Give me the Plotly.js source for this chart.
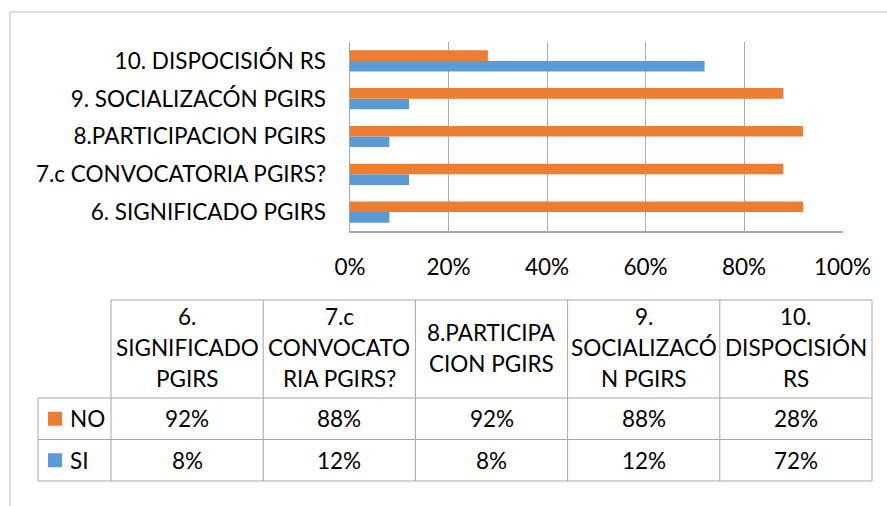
<!DOCTYPE html>
<html>
<head>
<meta charset="utf-8">
<script src="https://cdn.plot.ly/plotly-3.0.1.min.js"></script>
<style>html,body{margin:0;padding:0;background:#fff;}#chart{width:887px;height:506px;}</style>
</head>
<body>
<div id="chart"></div>
<script>
// ---- data ----
const categories = ["6. SIGNIFICADO PGIRS", "7.c CONVOCATORIA PGIRS?", "8.PARTICIPACION PGIRS", "9. SOCIALIZACÓN PGIRS", "10. DISPOCISIÓN RS"];
const headerLabels = ["6.<br>SIGNIFICADO<br>PGIRS", "7.c<br>CONVOCATO<br>RIA PGIRS?", "8.PARTICIPA<br>CION PGIRS", "9.<br>SOCIALIZACÓ<br>N PGIRS", "10.<br>DISPOCISIÓN<br>RS"];
const seriesNames = ["NO", "SI"];
const noValues = [92, 88, 92, 88, 28];
const siValues = [8, 12, 8, 12, 72];
const xTickValues = [0, 20, 40, 60, 80, 100];
const xTickLabels = ["0%", "20%", "40%", "60%", "80%", "100%"];

// ---- styles ----
const W = 887, H = 506;
const FONT = "Lato, 'Open Sans', sans-serif";
const orange = "#ED7D31", blue = "#5B9BD5";
const lineGray = "#a6a6a6";
const px = x => x / W;
const py = y => 1 - y / H;

const traces = [
  {type: "bar", orientation: "h", name: seriesNames[1], y: categories, x: siValues,
   marker: {color: blue}, hoverinfo: "x+y"},
  {type: "bar", orientation: "h", name: seriesNames[0], y: categories, x: noValues,
   marker: {color: orange}, hoverinfo: "x+y"}
];

// ---- table geometry ----
const tLeft = 38, legW = 73, tRight = 872;
const colW = (tRight - tLeft - legW) / categories.length;
const rowY = [300, 398, 439.5, 481];
const shapes = [];
const annotations = [];

// outer chart border (top & left)
shapes.push({type: "path", xref: "paper", yref: "paper",
  path: `M ${px(10)} ${py(520)} L ${px(10)} ${py(12)} L ${px(900)} ${py(12)}`,
  line: {color: "#bfbfbf", width: 1}});

const firstColX = tLeft + legW;
shapes.push({type: "line", xref: "paper", yref: "paper", x0: px(firstColX), x1: px(tRight), y0: py(rowY[0]), y1: py(rowY[0]), line: {color: lineGray, width: 1}});
for (let r = 1; r < rowY.length; r++) {
  shapes.push({type: "line", xref: "paper", yref: "paper", x0: px(tLeft), x1: px(tRight), y0: py(rowY[r]), y1: py(rowY[r]), line: {color: lineGray, width: 1}});
}
shapes.push({type: "line", xref: "paper", yref: "paper", x0: px(tLeft), x1: px(tLeft), y0: py(rowY[1]), y1: py(rowY[3]), line: {color: lineGray, width: 1}});
for (let c = 0; c <= categories.length; c++) {
  const xx = firstColX + c * colW;
  shapes.push({type: "line", xref: "paper", yref: "paper", x0: px(xx), x1: px(xx), y0: py(rowY[0]), y1: py(rowY[3]), line: {color: lineGray, width: 1}});
}

const TFS = 22.5;
categories.forEach((cat, c) => {
  const cx = firstColX + (c + 0.5) * colW;
  const lines = headerLabels[c].split("<br>");
  const lh = 31;
  const midY = (rowY[0] + rowY[1]) / 2 - 1.5;
  lines.forEach((ln, i) => {
    const yy = midY + (i - (lines.length - 1) / 2) * lh;
    annotations.push({xref: "paper", yref: "paper", x: px(cx), y: py(yy), text: ln, showarrow: false,
      xanchor: "center", yanchor: "middle", font: {family: FONT, size: TFS, color: "#000"}});
  });
});
const rowVals = [noValues, siValues];
const rowColors = [orange, blue];
rowVals.forEach((vals, r) => {
  const cy = (rowY[r + 1] + rowY[r + 2]) / 2;
  shapes.push({type: "rect", xref: "paper", yref: "paper", x0: px(48), x1: px(62), y0: py(cy - 7), y1: py(cy + 7),
    fillcolor: rowColors[r], line: {width: 0}});
  annotations.push({xref: "paper", yref: "paper", x: px(68), y: py(cy), text: seriesNames[r], showarrow: false,
    xanchor: "left", yanchor: "middle", font: {family: FONT, size: TFS, color: "#000"}});
  vals.forEach((v, c) => {
    const cx = firstColX + (c + 0.5) * colW;
    annotations.push({xref: "paper", yref: "paper", x: px(cx), y: py(cy), text: v + "%", showarrow: false,
      xanchor: "center", yanchor: "middle", font: {family: FONT, size: TFS, color: "#000"}});
  });
});

const layout = {
  width: W, height: H, autosize: false,
  margin: {l: 0, r: 0, t: 0, b: 0},
  paper_bgcolor: "#fff", plot_bgcolor: "#fff",
  showlegend: false,
  barmode: "group", bargap: 0.44, bargroupgap: 0,
  font: {family: FONT, color: "#000"},
  xaxis: {domain: [px(350), px(842.5)], range: [0, 100], tickmode: "array", tickvals: xTickValues, ticktext: xTickLabels,
    showgrid: true, gridcolor: "#acacac", gridwidth: 1, zeroline: false,
    showline: true, linecolor: "#a6a6a6", linewidth: 1.5, ticks: "", ticklabelstandoff: 15,
    tickfont: {family: FONT, size: 22.5, color: "#000"}, fixedrange: true},
  yaxis: {domain: [py(231), py(42)], type: "category", categoryorder: "array", categoryarray: categories,
    showline: true, linecolor: "#a6a6a6", linewidth: 1.5, ticks: "", ticklabelstandoff: 18,
    showgrid: false, tickfont: {family: FONT, size: 22.5, color: "#000"}, fixedrange: true},
  shapes: shapes,
  annotations: annotations
};

Plotly.newPlot("chart", traces, layout, {displayModeBar: false, staticPlot: true});
</script>
</body>
</html>
